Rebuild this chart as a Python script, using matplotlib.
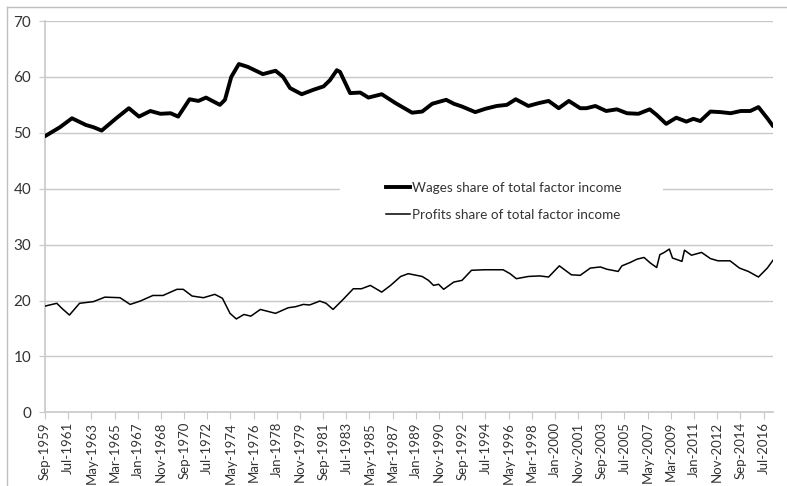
import matplotlib
matplotlib.use("Agg")
import matplotlib.pyplot as plt
from matplotlib.lines import Line2D
from matplotlib.patches import Rectangle
import pandas as pd

# ---- data (decimal year, percent) ----
wage_years = [1959.67, 1960.85, 1961.8, 1962.9, 1963.5, 1964.15, 1965.3, 1966.3, 1967.1, 1968.0,
              1968.8, 1969.6, 1970.2, 1971.1, 1971.8, 1972.4, 1973.5, 1973.9, 1974.4, 1975.0,
              1975.7, 1976.9, 1977.9, 1978.5, 1979.05, 1979.97, 1980.9, 1981.7, 1982.2, 1982.75,
              1983.0, 1983.8, 1984.6, 1985.25, 1986.3, 1987.4, 1988.7, 1989.5, 1990.3, 1991.4,
              1992.0, 1992.65, 1993.7, 1994.5, 1995.4, 1996.2, 1996.9, 1997.9, 1998.7, 1999.5,
              2000.3, 2001.1, 2002.0, 2002.5, 2003.2, 2004.05, 2004.9, 2005.7, 2006.6, 2007.5,
              2008.05, 2008.8, 2009.6, 2010.4, 2010.95, 2011.5, 2012.3, 2013.1, 2013.9, 2014.7,
              2015.45, 2016.1, 2016.8, 2017.25]
wage_share = [49.4, 51.0, 52.6, 51.4, 51.0, 50.4, 52.6, 54.4, 52.9, 53.9,
              53.4, 53.5, 52.9, 56.0, 55.7, 56.3, 55.0, 55.9, 60.0, 62.3,
              61.8, 60.5, 61.1, 60.0, 58.0, 56.9, 57.7, 58.3, 59.4, 61.2,
              60.9, 57.1, 57.2, 56.3, 56.9, 55.3, 53.6, 53.8, 55.2, 55.9,
              55.2, 54.7, 53.7, 54.3, 54.8, 55.0, 56.0, 54.8, 55.3, 55.7,
              54.4, 55.7, 54.4, 54.4, 54.8, 53.9, 54.2, 53.5, 53.4, 54.2,
              53.2, 51.6, 52.7, 52.0, 52.5, 52.1, 53.8, 53.7, 53.5, 53.9,
              53.9, 54.6, 52.6, 51.2]

profit_years = [1959.67, 1960.6, 1961.0, 1961.6, 1962.4, 1963.5, 1964.4, 1965.6, 1966.4, 1967.2,
                1968.2, 1969.0, 1970.1, 1970.6, 1971.3, 1972.2, 1973.1, 1973.7, 1974.3, 1974.8,
                1975.4, 1975.95, 1976.7, 1977.9, 1978.9, 1979.5, 1980.1, 1980.6, 1981.4, 1981.9,
                1982.45, 1983.25, 1984.05, 1984.7, 1985.4, 1986.3, 1987.0, 1987.8, 1988.4, 1989.5,
                1990.0, 1990.4, 1990.8, 1991.2, 1992.0, 1992.65, 1993.4, 1994.4, 1995.1, 1995.9,
                1996.45, 1996.95, 1997.9, 1998.8, 1999.5, 2000.35, 2001.3, 2002.0, 2002.8, 2003.6,
                2004.1, 2005.0, 2005.3, 2005.95, 2006.5, 2007.05, 2007.55, 2008.05, 2008.3, 2008.65,
                2009.05, 2009.3, 2010.05, 2010.25, 2010.8, 2011.6, 2012.3, 2012.9, 2013.85, 2014.6,
                2015.3, 2016.1, 2016.8, 2017.25]
profit_share = [19.0, 19.5, 18.6, 17.4, 19.5, 19.8, 20.6, 20.5, 19.3, 19.9,
                20.9, 20.9, 22.0, 22.0, 20.8, 20.5, 21.1, 20.4, 17.7, 16.7,
                17.5, 17.2, 18.4, 17.7, 18.7, 18.9, 19.3, 19.2, 19.9, 19.5,
                18.4, 20.2, 22.1, 22.1, 22.7, 21.5, 22.7, 24.3, 24.8, 24.3,
                23.6, 22.7, 22.9, 22.0, 23.3, 23.6, 25.4, 25.5, 25.5, 25.5,
                24.8, 23.9, 24.3, 24.4, 24.2, 26.2, 24.6, 24.5, 25.8, 26.0,
                25.6, 25.2, 26.2, 26.8, 27.4, 27.7, 26.7, 25.9, 28.2, 28.6,
                29.2, 27.6, 27.0, 29.0, 28.1, 28.6, 27.5, 27.1, 27.1, 25.8,
                25.2, 24.2, 25.8, 27.2]

series_labels = ["Wages share of total factor income", "Profits share of total factor income"]
y_ticks = [0, 10, 20, 30, 40, 50, 60, 70]

tick_dates = pd.date_range("1959-09-01", "2016-07-01", freq="22MS")
tick_pos = [d.year + (d.month - 1) / 12 for d in tick_dates]
tick_labels = [d.strftime("%b-%Y") for d in tick_dates]

# ---- figure ----
plt.rcParams["font.family"] = ["Lato", "DejaVu Sans"]
W, H = 787, 486
fig = plt.figure(figsize=(W / 100, H / 100), dpi=100)
ax = fig.add_axes([45 / W, 1 - 412.3 / H, (773 - 45) / W, (412.3 - 21) / H])

text_col = "#333333"
grid_col = "#c8c8c8"

ax.plot(wage_years, wage_share, color="black", lw=2.8, solid_joinstyle="round",
        solid_capstyle="round", zorder=3)
ax.plot(profit_years, profit_share, color="black", lw=1.1, solid_joinstyle="round", zorder=3)

ax.set_xlim(1959.667, 2017.25)
ax.set_ylim(0, 70)
ax.set_yticks(y_ticks)
ax.set_yticklabels([str(v) for v in y_ticks], fontsize=11, color=text_col)
ax.set_xticks(tick_pos)
ax.set_xticklabels(tick_labels, rotation=90, fontsize=9.5, color=text_col)
ax.tick_params(axis="x", direction="out", length=5, color=grid_col, pad=2)
ax.tick_params(axis="y", direction="out", length=4, color=grid_col, pad=6)

ax.grid(axis="y", color=grid_col, lw=1)
ax.set_axisbelow(True)
for s in ["top", "right"]:
    ax.spines[s].set_visible(False)
ax.spines["left"].set_color(grid_col)
ax.spines["bottom"].set_color(grid_col)
ax.spines["left"].set_linewidth(1.2)
ax.spines["bottom"].set_linewidth(1.2)

# white legend area (covers gridline at 40 only)
x0 = (340 - 45) / 728
x1 = (663 - 45) / 728
y0 = (412.3 - 232) / 391.3
y1 = (412.3 - 168) / 391.3
ax.add_patch(Rectangle((x0, y0), x1 - x0, y1 - y0, transform=ax.transAxes,
                       facecolor="white", edgecolor="none", zorder=1))

handles = [Line2D([], [], color="black", lw=2.8), Line2D([], [], color="black", lw=1.1)]
leg = ax.legend(handles, series_labels, loc="center", bbox_to_anchor=(0.63, 0.539),
                frameon=False, fontsize=9.7, handlelength=1.75, handletextpad=0.15,
                labelspacing=1.15, borderpad=0.3, labelcolor=text_col)
leg.set_zorder(4)

# outer chart border
fig.add_artist(Line2D([7 / W, 7 / W], [0, 1 - 7 / H], color="#bfbfbf", lw=1, transform=fig.transFigure))
fig.add_artist(Line2D([7 / W, 1], [1 - 7 / H, 1 - 7 / H], color="#bfbfbf", lw=1, transform=fig.transFigure))

fig.savefig("out.png", dpi=100)
